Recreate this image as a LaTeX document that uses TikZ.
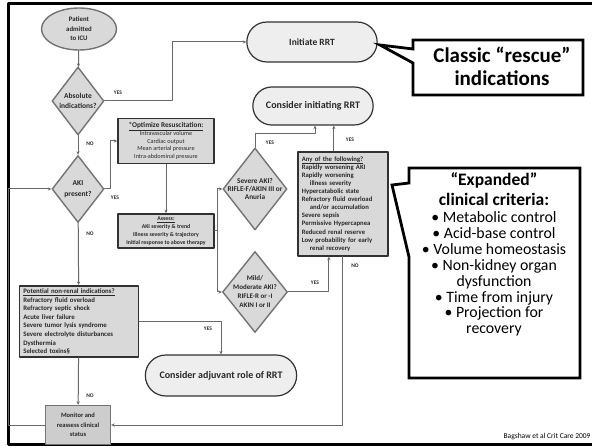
\documentclass[tikz,border=0pt]{standalone}
\usepackage{fontspec}
\setmainfont{Carlito}
\usetikzlibrary{shapes.geometric,shapes.misc,arrows.meta}
\definecolor{boxgray}{RGB}{217,217,217}
\definecolor{monitorgray}{RGB}{205,205,205}
\definecolor{termgray}{RGB}{238,238,238}
\definecolor{linegray}{RGB}{105,105,105}
\definecolor{edgegray}{RGB}{115,115,115}
\definecolor{darkedge}{RGB}{50,50,50}
\definecolor{txtgray}{RGB}{40,40,40}
\tikzset{
  chart/.style={
    line width=1pt,
    line cap=round,
    line join=round
  },
  frame/.style={draw=black, line width=3pt, line cap=butt},
  conn/.style={draw=linegray, line width=1pt, -{Stealth[length=3.5pt,width=3.2pt]}},
  yes-no/.style={font=\fontsize{5.5}{6}\selectfont\bfseries, text=txtgray, inner sep=0pt},
  start-oval/.style={ellipse, draw=edgegray, fill=boxgray, line width=1.4pt, minimum width=75pt, minimum height=42pt, inner sep=0pt, align=center, text=txtgray, font=\fontsize{6.8}{9.5}\selectfont\bfseries},
  decision/.style={diamond, draw=edgegray, fill=boxgray, line width=1.4pt, inner sep=0pt},
  dia-big/.style={align=center, text=txtgray, inner sep=0pt, font=\fontsize{7.5}{10.5}\selectfont\bfseries},
  dia-small/.style={align=center, text=txtgray, inner sep=0pt, font=\fontsize{7.3}{8.3}\selectfont\bfseries},
  step-box/.style={rectangle, draw=darkedge, fill=boxgray, line width=1.7pt, inner sep=2pt, text=txtgray, font=\fontsize{6}{7.6}\selectfont\bfseries},
  list-box/.style={step-box, align=left, inner xsep=4pt, anchor=north west},
  monitor-box/.style={rectangle, draw=edgegray, fill=monitorgray, line width=1.4pt, align=center, text=txtgray, font=\fontsize{6.5}{9.5}\selectfont\bfseries},
  terminal/.style={rounded rectangle, draw=darkedge, fill=termgray, line width=1.2pt, text=txtgray, font=\fontsize{10}{11}\selectfont\bfseries},
  callout/.style={draw=black, fill=white, line width=2.8pt, line join=miter},
  callout-head/.style={align=center, inner sep=0pt, font=\fontsize{21}{23}\selectfont\bfseries},
  callout-body/.style={align=center, inner sep=0pt, font=\fontsize{15.8}{15.9}\selectfont}
}

\begin{document}
\begin{tikzpicture}[x=1pt,y=-1pt,chart]
  \useasboundingbox (0,0) rectangle (592,446);
  % outer frame
  \draw[frame] (600,4) -- (8,4) -- (8,444) -- (600,444);

  % Left column
  \node[start-oval] (patient) at (79,29) {Patient\\admitted\\to ICU};
  \node[decision, minimum width=52pt, minimum height=68pt] (absolute) at (78,101) {};
  \node[dia-big] (absolute-text) at (absolute) {Absolute\\indications?};
  \node[decision, minimum width=52pt, minimum height=67pt] (aki) at (78,189) {};
  \node[dia-big] (aki-text) at (aki) {AKI\\present?};
  \node[list-box, text width=111pt, minimum height=71pt,
    font=\fontsize{6.8}{8.6}\selectfont\bfseries] (nonrenal) at (18.5,285) {%
    \underline{Potential non-renal indications?}\\
    Refractory fluid overload\\
    Refractory septic shock\\
    Acute liver failure\\
    Severe tumor lysis syndrome\\
    Severe electrolyte disturbances\\
    Dysthermia\\
    Selected toxins§};
  \node[monitor-box, minimum width=65pt, minimum height=39pt] (monitor) at (78,425) {Monitor and\\reassess clinical\\status};

  % Middle column
  \node[step-box, align=center, minimum width=96pt, minimum height=45pt,
    font=\fontsize{6.2}{7.6}\selectfont] (optimize) at (166,141) {%
    \fontsize{7.3}{7.6}\selectfont\bfseries\underline{*Optimize Resuscitation:}\\
    Intravascular volume\\
    Cardiac output\\
    Mean arterial pressure\\
    Intra-abdominal pressure};
  \node[step-box, align=center, minimum width=96pt, minimum height=34pt,
    font=\fontsize{5.8}{7.9}\selectfont\bfseries] (assess) at (166,231) {%
    \underline{Assess:}\\
    AKI severity \& trend\\
    Illness severity \& trajectory\\
    Initial response to above therapy};
  \node[decision, minimum width=64pt, minimum height=82pt] (severe) at (255,189) {};
  \node[dia-small] (severe-text) at (severe) {Severe AKI?\\RIFLE-F/AKIN III or\\Anuria};
  \node[decision, minimum width=65pt, minimum height=81pt] (mild) at (255,292) {};
  \node[dia-small, font=\fontsize{7}{9}\selectfont\bfseries] (mild-text) at (mild) {Mild/\\Moderate AKI?\\RIFLE-R or -I\\AKIN I or II};
  \node[terminal, minimum width=158pt, minimum height=41pt] (adjuvant) at (221,375.5) {Consider adjuvant role of RRT};

  % Right column
  \node[terminal, minimum width=137pt, minimum height=40pt, font=\fontsize{9.5}{11}\selectfont\bfseries] (initiate) at (312,42) {Initiate RRT};
  \node[terminal, minimum width=127pt, minimum height=38pt] (consider) at (313,106) {Consider initiating RRT};
  \node[list-box, text width=82pt, inner xsep=4pt, minimum height=104pt,
    font=\fontsize{6.7}{8.1}\selectfont\bfseries] (any) at (297,151) {%
    \underline{Any of the following?}\\
    Rapidly worsening AKI\\
    Rapidly worsening\\
    \hspace*{8pt}illness severity\\
    Hypercatabolic state\\
    Refractory fluid overload\\
    \hspace*{8pt}and/or accumulation\\
    Severe sepsis\\
    Permissive Hypercapnea\\
    Reduced renal reserve\\
    Low probability for early\\
    \hspace*{8pt}renal recovery};

  % Connectors
  \draw[conn] (patient) -- (absolute);
  \draw[conn] (absolute.east) -- (172,101) |- (initiate.west);
  \draw[conn] (absolute) -- (aki);
  \draw[conn] (aki.east) -- (110,189) |- (optimize.west);
  \draw[conn] (optimize) -- (assess);
  \draw[conn] (assess.east) -- (217,231) |- (severe.west);
  \draw[conn] (assess.east) -- (217,231) |- (mild.west);
  \draw[conn] (severe.north) -- ++(0,-14) -| ([xshift=2pt]consider.south);
  \draw[conn] ([xshift=-9pt]any.north) -- ([xshift=-9pt]any.north |- consider.south);
  \draw[conn] (mild.east) -| ([xshift=-14pt]any.south);
  \draw[conn] (any.south) |- (monitor.east);
  \draw[conn] (aki) -- (nonrenal);
  \draw[conn] (nonrenal.east) -| (adjuvant.north);
  \draw[conn] (nonrenal) -- (monitor);
  \draw[conn] (monitor.west) -- (8,425) |- (aki.west);

  % YES / NO labels
  \node[yes-no] (yes-abs) at (118,93) {YES};
  \node[yes-no] (no-abs) at (90,144) {NO};
  \node[yes-no] (yes-aki) at (115,198) {YES};
  \node[yes-no] (no-aki) at (90,234) {NO};
  \node[yes-no] (yes-severe) at (270,143) {YES};
  \node[yes-no] (yes-any) at (350,140) {YES};
  \node[yes-no] (no-any) at (355,266) {NO};
  \node[yes-no] (yes-mild) at (315,283) {YES};
  \node[yes-no] (yes-nonrenal) at (208,329) {YES};
  \node[yes-no] (no-nonrenal) at (90,396) {NO};

  % Callouts
  \draw[callout] (413,40) -- (583,40) -- (583,95) -- (413,95) -- (413,63) -- (380,45) -- (413,49) -- cycle;
  \node[callout-head] (classic) at (502,66.5) {Classic “rescue”\\indications};
  \draw[callout] (409,168) -- (580,168) -- (580,378) -- (409,378) -- (409,257) -- (392,185) -- (409,183) -- cycle;
  \node[callout-head, font=\fontsize{17.5}{20}\selectfont\bfseries] (expanded) at (494,189.5) {“Expanded”\\clinical criteria:};
  \node[callout-body] (criteria) at (494,274) {%
    • Metabolic control\\
    • Acid-base control\\
    • Volume homeostasis\\
    • Non-kidney organ\\
    dysfunction\\
    • Time from injury\\
    • Projection for\\
    recovery};

  % Source
  \node[anchor=east, inner sep=0pt, font=\fontsize{7.5}{9}\selectfont] (source) at (591,437) {Bagshaw et al Crit Care 2009};
\end{tikzpicture}
\end{document}
